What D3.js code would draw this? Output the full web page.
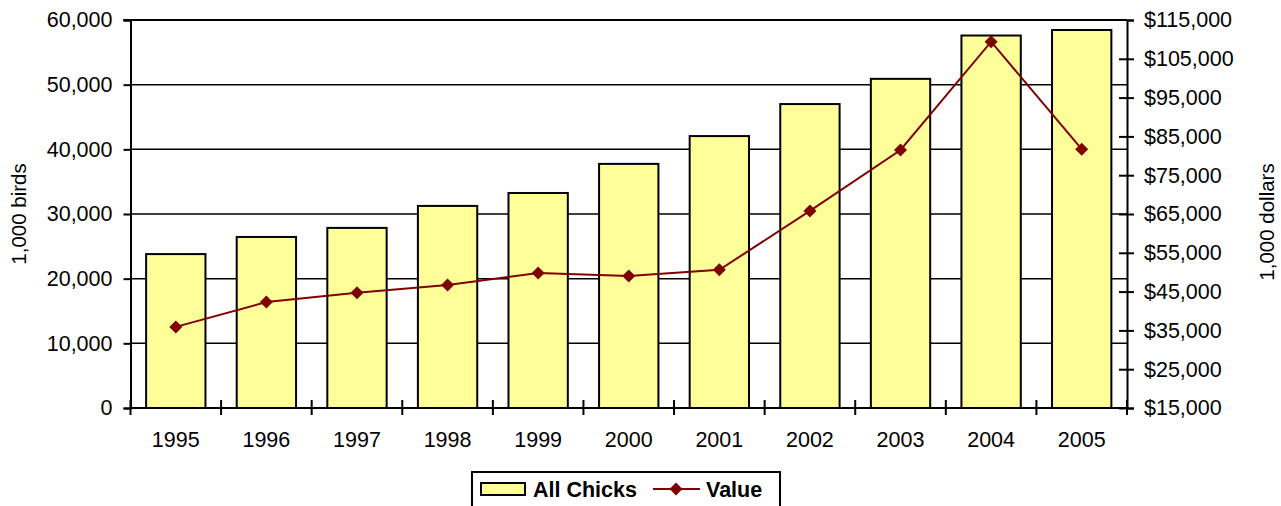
<!DOCTYPE html>
<html>
<head>
<meta charset="utf-8">
<script src="https://cdn.jsdelivr.net/npm/d3@7"></script>
<style>
	body { margin:0; background:#fff; }
	text { font-family: "Liberation Sans", Arial, sans-serif; fill:#000; }
</style>
</head>
<body>
<div id="chart-area"></div>
<script>
// data
var years = ["1995","1996","1997","1998","1999","2000","2001","2002","2003","2004","2005"];
var chicks = [23800, 26450, 27850, 31250, 33250, 37750, 42050, 47000, 50900, 57600, 58450];
var value = [35900, 42300, 44700, 46700, 49800, 49000, 50600, 65800, 81500, 109400, 81700];
var leftTicks = [0, 10000, 20000, 30000, 40000, 50000, 60000];
var rightTicks = [15000, 25000, 35000, 45000, 55000, 65000, 75000, 85000, 95000, 105000, 115000];

var margin = {left:130.5, right:154, top:20, bottom:98};
var width = 1281 - margin.left - margin.right,
	height = 506 - margin.top - margin.bottom;

var svg = d3.select("#chart-area")
	.append("svg")
		.attr("width", 1281)
		.attr("height", 506);

var canvas = svg.append("g")
	.attr("transform", "translate(" + margin.left + ", " + margin.top + ")");

//scales
var x = d3.scaleBand()
	.domain(years)
	.range([0, width])
	.paddingInner(0.345)
	.paddingOuter(0.1725);

var y = d3.scaleLinear()
	.domain([0, 60000])
	.range([height, 0]);

var y2 = d3.scaleLinear()
	.domain([15000, 115000])
	.range([height, 0]);

var fmt = d3.format(",");
var tickFont = "21.5px";

//gridlines
canvas.append("g")
	.selectAll("line")
	.data(leftTicks.slice(1))
	.enter().append("line")
		.attr("x1", 0)
		.attr("x2", width)
		.attr("y1", function(d){ return y(d); })
		.attr("y2", function(d){ return y(d); })
		.attr("stroke", "#000")
		.attr("stroke-width", 1.5);

//bars
canvas.selectAll("rect.bar")
	.data(chicks)
	.enter().append("rect")
		.attr("class", "bar")
		.attr("x", function(d, i){ return x(years[i]); })
		.attr("width", x.bandwidth())
		.attr("y", function(d){ return y(d); })
		.attr("height", function(d){ return height - y(d); })
		.attr("fill", "#FFFF99")
		.attr("stroke", "#000")
		.attr("stroke-width", 2);

//left axis
var yAxisCall = d3.axisLeft(y)
	.tickValues(leftTicks)
	.tickSize(7)
	.tickPadding(11)
	.tickFormat(fmt);

var yAxis = canvas.append("g")
	.attr("class", "y axis")
	.call(yAxisCall);

//right axis
var y2AxisCall = d3.axisRight(y2)
	.tickValues(rightTicks)
	.tickSize(7)
	.tickPadding(10)
	.tickFormat(function(d){ return "$" + fmt(d); });

var y2Axis = canvas.append("g")
	.attr("class", "y2 axis")
	.attr("transform", "translate(" + width + ", 0)")
	.call(y2AxisCall);

// right ticks cross the axis line
y2Axis.selectAll(".tick line")
	.attr("x1", function(d){ return d === 115000 ? 0 : -8; });

//x axis
canvas.append("line")
	.attr("x1", 0).attr("x2", width)
	.attr("y1", height).attr("y2", height)
	.attr("stroke", "#000").attr("stroke-width", 2);

var boundaries = d3.range(years.length + 1);
canvas.append("g")
	.selectAll("line")
	.data(boundaries)
	.enter().append("line")
		.attr("x1", function(d){ return d * x.step(); })
		.attr("x2", function(d){ return d * x.step(); })
		.attr("y1", height - 8)
		.attr("y2", height + 7)
		.attr("stroke", "#000")
		.attr("stroke-width", 2);

canvas.append("g")
	.selectAll("text")
	.data(years)
	.enter().append("text")
		.attr("x", function(d){ return x(d) + x.bandwidth()/2; })
		.attr("y", height + 39)
		.attr("text-anchor", "middle")
		.attr("font-size", tickFont)
		.text(function(d){ return d; });

// axis styling
canvas.selectAll(".axis path.domain")
	.attr("stroke", "#000")
	.attr("stroke-width", 2);
canvas.selectAll(".axis .tick line")
	.attr("stroke", "#000")
	.attr("stroke-width", 2);
canvas.selectAll(".axis text")
	.attr("font-size", tickFont)
	.attr("font-family", "Liberation Sans, Arial, sans-serif")
	.attr("fill", "#000");

// top line extends past left axis
canvas.append("line")
	.attr("x1", -7).attr("x2", width)
	.attr("y1", 0).attr("y2", 0)
	.attr("stroke", "#000").attr("stroke-width", 2);

//value line
var line = d3.line()
	.x(function(d, i){ return x(years[i]) + x.bandwidth()/2; })
	.y(function(d){ return y2(d); });

canvas.append("path")
	.datum(value)
	.attr("d", line)
	.attr("fill", "none")
	.attr("stroke", "#800000")
	.attr("stroke-width", 2);

function diamond(cx, cy, r) {
	return "M" + cx + "," + (cy - r) + "L" + (cx + r) + "," + cy +
		"L" + cx + "," + (cy + r) + "L" + (cx - r) + "," + cy + "Z";
}

canvas.selectAll("path.marker")
	.data(value)
	.enter().append("path")
		.attr("class", "marker")
		.attr("d", function(d, i){ return diamond(x(years[i]) + x.bandwidth()/2, y2(d), 6.5); })
		.attr("fill", "#800000");

//axis titles
svg.append("text")
	.attr("transform", "translate(26, " + (margin.top + height/2) + ") rotate(-90)")
	.attr("text-anchor", "middle")
	.attr("font-size", "20.5px")
	.text("1,000 birds");

svg.append("text")
	.attr("transform", "translate(1274, 222) rotate(-90)")
	.attr("text-anchor", "middle")
	.attr("font-size", "20.5px")
	.text("1,000 dollars");

//legend
var legend = svg.append("g")
	.attr("transform", "translate(472, 472)");

legend.append("rect")
	.attr("x", 0).attr("y", 0)
	.attr("width", 308).attr("height", 45)
	.attr("fill", "#fff")
	.attr("stroke", "#000")
	.attr("stroke-width", 2);

legend.append("rect")
	.attr("x", 9).attr("y", 11)
	.attr("width", 44).attr("height", 12)
	.attr("fill", "#FFFF99")
	.attr("stroke", "#000")
	.attr("stroke-width", 2);

legend.append("text")
	.attr("x", 61).attr("y", 25)
	.attr("font-size", "21.5px")
	.attr("font-weight", "bold")
	.text("All Chicks");

legend.append("line")
	.attr("x1", 181).attr("x2", 228)
	.attr("y1", 17).attr("y2", 17)
	.attr("stroke", "#800000")
	.attr("stroke-width", 2);

legend.append("path")
	.attr("d", diamond(204, 17, 6.5))
	.attr("fill", "#800000");

legend.append("text")
	.attr("x", 234).attr("y", 25)
	.attr("font-size", "21.5px")
	.attr("font-weight", "bold")
	.text("Value");
</script>
</body>
</html>
